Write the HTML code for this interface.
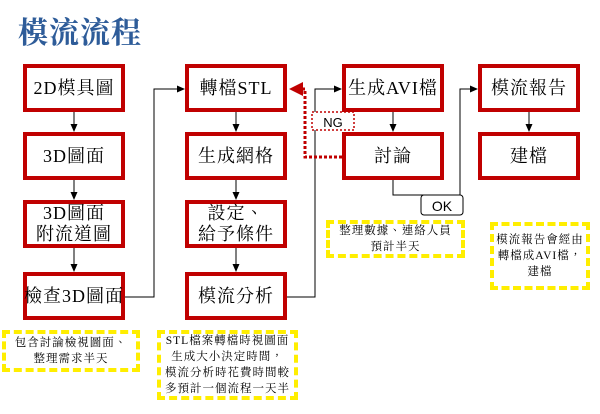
<!DOCTYPE html>
<html><head><meta charset="utf-8"><style>
body{margin:0;width:600px;height:414px;background:#fff;position:relative;overflow:hidden;font-family:"Liberation Serif","Noto Serif CJK SC",serif}
.t{position:absolute;left:18px;top:8px;font-size:30px;font-weight:bold;color:#2e5c99;font-family:"Noto Serif CJK SC",serif;letter-spacing:1px}
.b{position:absolute;width:94px;height:40px;border:4px solid #c00000;background:#fff;display:flex;align-items:center;justify-content:center;text-align:center;font-size:18px;line-height:21px;color:#000;white-space:nowrap;letter-spacing:1px;font-family:"Liberation Serif","Noto Serif CJK TC","Noto Serif CJK SC",serif}
.y{position:absolute;border:4px dashed #ffee00;font-size:11.5px;line-height:16px;text-align:center;color:#000;display:flex;align-items:center;justify-content:center;letter-spacing:1px;font-family:"Liberation Serif","Noto Serif CJK TC","Noto Serif CJK SC",serif}
svg{position:absolute;left:0;top:0}
</style></head><body>
<div class="t">模流流程</div>
<svg width="600" height="414">
<defs><marker id="a" markerWidth="8" markerHeight="8" refX="7" refY="4" orient="auto" markerUnits="userSpaceOnUse"><path d="M0,0.5L8,4L0,7.5z" fill="#000"/></marker>
<marker id="r" markerWidth="14" markerHeight="14" refX="12" refY="7" orient="auto" markerUnits="userSpaceOnUse"><path d="M0,0L14,7L0,14z" fill="#c00000"/></marker></defs>
<g stroke="#000" stroke-width="1" fill="none">
<path d="M74,112V131" marker-end="url(#a)"/><path d="M74,180V199" marker-end="url(#a)"/><path d="M74,248V271" marker-end="url(#a)"/>
<path d="M236,112V131" marker-end="url(#a)"/><path d="M236,180V199" marker-end="url(#a)"/><path d="M236,248V271" marker-end="url(#a)"/>
<path d="M393,112V131" marker-end="url(#a)"/><path d="M529,112V131" marker-end="url(#a)"/>
<path d="M125,297H154V89H184" marker-end="url(#a)"/>
<path d="M287,297H315V89H341" marker-end="url(#a)"/>
<path d="M393,180V195H460V89H477" marker-end="url(#a)"/>
</g>
<path d="M342,157H305V89H300" stroke="#c00000" stroke-width="3" stroke-dasharray="3,2" fill="none"/>
<path d="M303,82L289,89L303,96z" fill="#c00000"/>
<rect x="312" y="112" width="42" height="18" fill="#fff" stroke="#c00000" stroke-width="1.5" stroke-dasharray="2,2"/>
<text x="333" y="127" font-family="Liberation Sans" font-size="13" text-anchor="middle">NG</text>
<rect x="421" y="195" width="42" height="20" rx="3" fill="#fff" stroke="#000"/>
<text x="442" y="211" font-family="Liberation Sans" font-size="14" text-anchor="middle">OK</text>
</svg>
<div class="b" style="left:23px;top:64px">2D模具圖</div>
<div class="b" style="left:23px;top:132px">3D圖面</div>
<div class="b" style="left:23px;top:200px">3D圖面<br>附流道圖</div>
<div class="b" style="left:23px;top:272px">檢查3D圖面</div>
<div class="b" style="left:185px;top:64px">轉檔STL</div>
<div class="b" style="left:185px;top:132px">生成網格</div>
<div class="b" style="left:185px;top:200px">設定、<br>給予條件</div>
<div class="b" style="left:185px;top:272px">模流分析</div>
<div class="b" style="left:342px;top:64px">生成AVI檔</div>
<div class="b" style="left:342px;top:132px">討論</div>
<div class="b" style="left:478px;top:64px">模流報告</div>
<div class="b" style="left:478px;top:132px">建檔</div>
<div class="y" style="left:2px;top:330px;width:130px;height:34px">包含討論檢視圖面、<br>整理需求半天</div>
<div class="y" style="left:157px;top:330px;width:133px;height:62px">STL檔案轉檔時視圖面<br>生成大小決定時間，<br>模流分析時花費時間較<br>多預計一個流程一天半</div>
<div class="y" style="left:326px;top:220px;width:131px;height:30px">整理數據、連絡人員<br>預計半天</div>
<div class="y" style="left:490px;top:222px;width:92px;height:60px">模流報告會經由<br>轉檔成AVI檔，<br>建檔</div>
</body></html>
